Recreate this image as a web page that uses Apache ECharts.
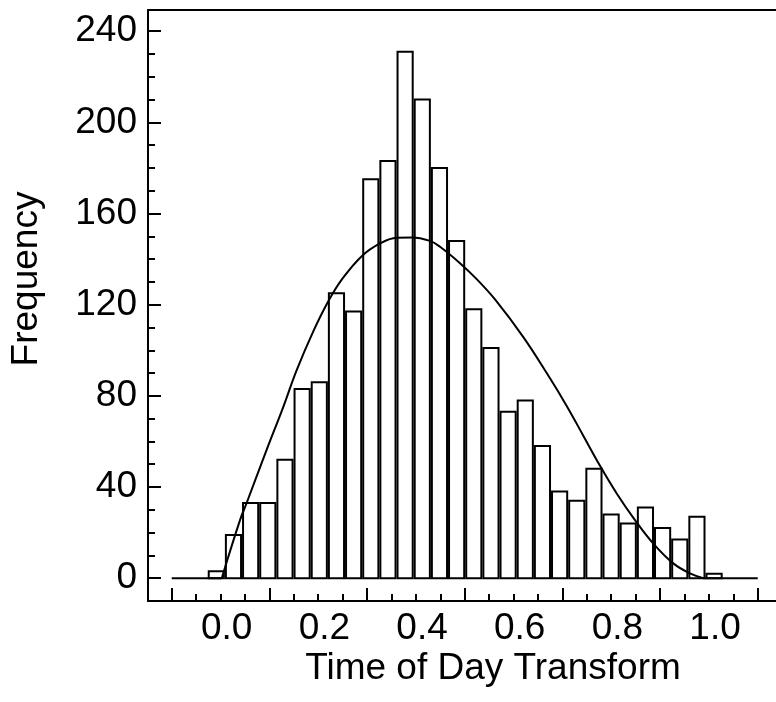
<!DOCTYPE html>
<html>
<head>
<meta charset="utf-8">
<script src="https://cdn.jsdelivr.net/npm/echarts@6/dist/echarts.min.js"></script>
<style>html,body{margin:0;padding:0;background:#fff}#c{width:776px;height:702px}</style>
</head>
<body>
<div id="c"></div>
<script>
// Histogram counts (30 bins)
var counts = [3, 19, 33, 33, 52, 83, 86, 125, 117, 175, 183, 231, 210, 180, 148,
              118, 101, 73, 78, 58, 38, 34, 48, 28, 24, 31, 22, 17, 27, 2];
var binStart = -0.0389;
var binWidth = 0.03515;

// Fitted density curve
var curveX = [-0.0102, 0.0272, 0.041, 0.0819, 0.1159, 0.1433, 0.1773, 0.208, 0.2355,
              0.2764, 0.3139, 0.3481, 0.3788, 0.4163, 0.4368, 0.4777, 0.5119, 0.5494, 0.6074,
              0.6553, 0.6962, 0.7302, 0.7644, 0.7986, 0.8361, 0.8736, 0.9145, 0.9487, 0.976];
var curveY = [0, 25.5, 33.1, 56.4, 75.2, 91.3, 108.3, 121.5, 131.0,
              141.3, 146.9, 149.4, 149.5, 148.0, 145.4, 138.2, 131.2, 122.3, 105.8,
              90.0, 75.6, 62.5, 49.3, 37.2, 25.5, 15.2, 6.5, 2.1, 0];
// flat zero parts of the curve outside its support
var baseLeft = [-0.1126, -0.0102];
var baseRight = [0.976, 1.0874];

// Tick labels
var xLabels = [0, 0.2, 0.4, 0.6, 0.8, 1.0];
var yLabels = [0, 40, 80, 120, 160, 200, 240];

// tick marks (decoration)
var xMajorTicks = [], xMinorTicks = [];
for (var i = 0; i < 7; i++) xMajorTicks.push(-0.1126 + 0.2 * i);
for (var j = 0; j < 25; j++) xMinorTicks.push(-0.1126 + 0.05 * j);
var yMinorTicks = [];
for (var k = 0; k <= 24; k++) yMinorTicks.push(10 * k);

var FONT = 'Liberation Sans, Arial, Helvetica, sans-serif';
var black = '#000';

var barData = counts.map(function (c, i) {
  return [binStart + i * binWidth, binStart + (i + 1) * binWidth, c];
});
var curveData = curveX.map(function (x, i) { return [x, curveY[i]]; });

var chart = echarts.init(document.getElementById('c'), null, {renderer: 'canvas'});
var XMIN = -0.1612, XMAX = 1.1248, YMIN = -10, YMAX = 249.3;
function flat(xs) { return xs.map(function (x) { return [x, 0]; }); }
var lineStyle = {color: black, width: 2};
chart.setOption({
  animation: false,
  backgroundColor: '#fff',
  grid: {left: 148, top: 10, right: 0, height: 591, containLabel: false},
  xAxis: [
    {type: 'value', min: XMIN, max: XMAX, position: 'bottom',
     axisLine: {show: true, onZero: false, lineStyle: {color: black, width: 2}},
     axisTick: {show: true, inside: true, length: 13, customValues: xMajorTicks, lineStyle: {color: black, width: 2}},
     axisLabel: {show: true, customValues: xLabels, margin: 9, color: black, fontSize: 37, fontFamily: FONT,
                 formatter: function (v) { return Number(v).toFixed(1); }},
     splitLine: {show: false}},
    {type: 'value', min: XMIN, max: XMAX, position: 'bottom',
     axisLine: {show: false, onZero: false},
     axisTick: {show: true, inside: true, length: 7, customValues: xMinorTicks, lineStyle: {color: black, width: 2}},
     axisLabel: {show: false}, splitLine: {show: false}},
    {type: 'value', min: XMIN, max: XMAX, position: 'top',
     axisLine: {show: true, onZero: false, lineStyle: {color: black, width: 2}},
     axisTick: {show: false}, axisLabel: {show: false}, splitLine: {show: false}}
  ],
  yAxis: [
    {type: 'value', min: YMIN, max: YMAX, position: 'left',
     axisLine: {show: true, onZero: false, lineStyle: {color: black, width: 2}},
     axisTick: {show: true, inside: true, length: 13, customValues: yLabels, lineStyle: {color: black, width: 2}},
     axisLabel: {show: true, customValues: yLabels, margin: 11, color: black, fontSize: 37, fontFamily: FONT},
     splitLine: {show: false}},
    {type: 'value', min: YMIN, max: YMAX, position: 'left',
     axisLine: {show: false, onZero: false},
     axisTick: {show: true, inside: true, length: 7, customValues: yMinorTicks, lineStyle: {color: black, width: 2}},
     axisLabel: {show: false}, splitLine: {show: false}}
  ],
  graphic: [
    {type: 'text', x: 27, y: 279, rotation: Math.PI / 2,
     style: {text: 'Frequency', fill: black, font: '37px ' + FONT, align: 'center', verticalAlign: 'middle'}},
    {type: 'text', x: 493, y: 669,
     style: {text: 'Time of Day Transform', fill: black, font: '37px ' + FONT, align: 'center', verticalAlign: 'middle'}}
  ],
  series: [
    {type: 'custom', xAxisIndex: 0, yAxisIndex: 0, data: barData, z: 2,
     renderItem: function (params, api) {
       var p0 = api.coord([api.value(0), 0]);
       var p1 = api.coord([api.value(1), api.value(2)]);
       return {type: 'rect',
               shape: {x: p0[0] + 1, y: p1[1], width: p1[0] - p0[0] - 2, height: p0[1] - p1[1]},
               style: {fill: '#fff', stroke: black, lineWidth: 2}};
     }},
    {type: 'line', xAxisIndex: 0, yAxisIndex: 0, data: curveData, z: 3,
     smooth: 0.4, symbol: 'none', showSymbol: false, lineStyle: lineStyle},
    {type: 'line', xAxisIndex: 0, yAxisIndex: 0, data: flat(baseLeft), z: 3,
     symbol: 'none', showSymbol: false, lineStyle: lineStyle},
    {type: 'line', xAxisIndex: 0, yAxisIndex: 0, data: flat(baseRight), z: 3,
     symbol: 'none', showSymbol: false, lineStyle: lineStyle}
  ]
});
</script>
</body>
</html>
